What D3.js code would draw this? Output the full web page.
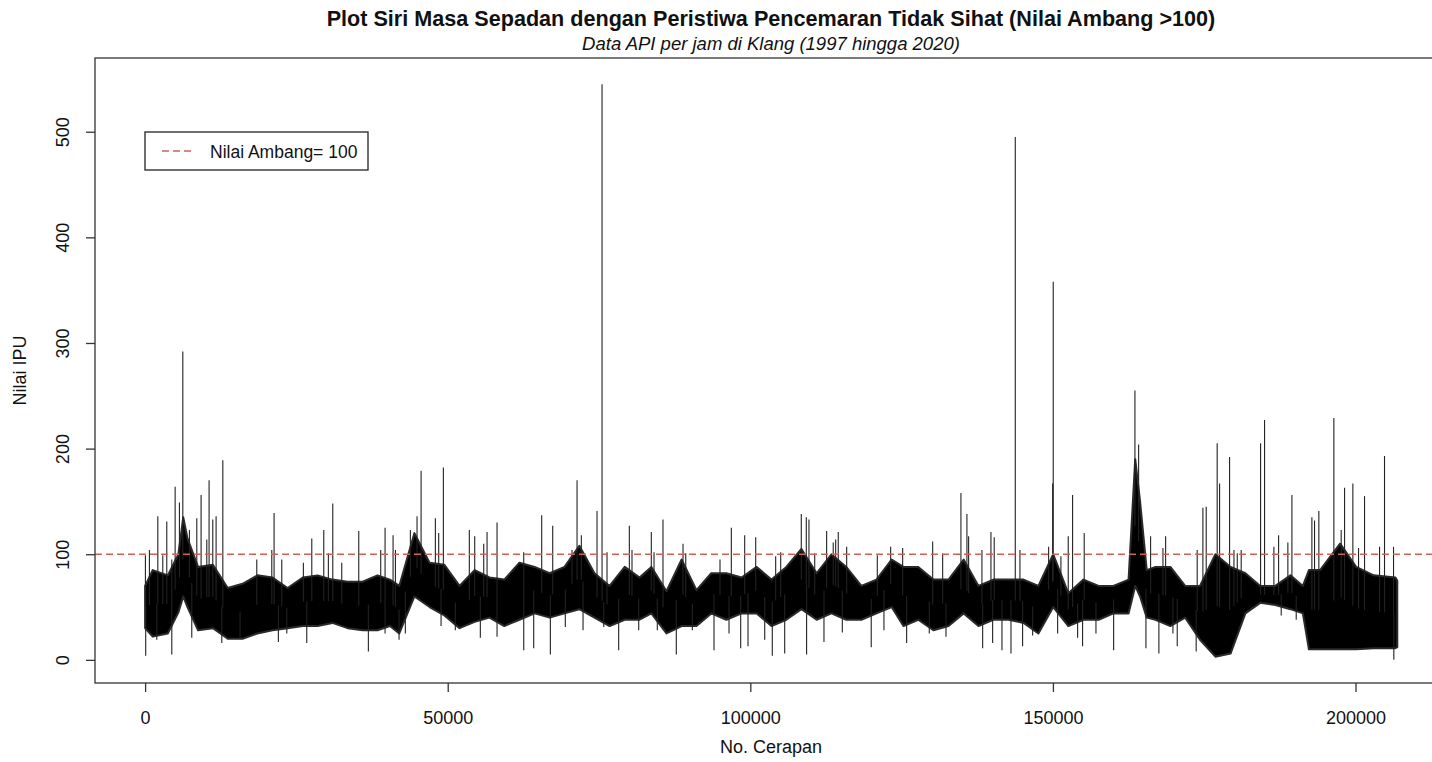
<!DOCTYPE html>
<html>
<head>
<meta charset="utf-8">
<script src="https://cdn.jsdelivr.net/npm/d3@7"></script>
<style>
  body { margin: 0; background: #fff; }
  svg text { font-family: "Liberation Sans", Arial, sans-serif; fill: #111; }
</style>
</head>
<body>
<svg id="chart" width="1432" height="762"></svg>
<script>
// Dense band of the hourly series, read per bin: observation no., low and high edge of the black mass
const binObs = [0, 1250, 3750, 5500, 6300, 7000, 8750, 11200, 13650, 16100, 18550, 21050, 23550, 26050,
  28500, 30950, 33450, 35950, 38400, 40450, 42000, 44500, 47000, 49450, 51950, 54450, 56900, 59350,
  61850, 64350, 66850, 69300, 71750, 74250, 76750, 79250, 81700, 83650, 86150, 88650, 91100, 93550,
  96050, 98550, 101050, 103500, 105950, 108450, 110950, 113400, 115850, 118350, 120850, 123350,
  125300, 127750, 130250, 132750, 135250, 137700, 140150, 142650, 145150, 147600, 150050, 152550,
  155050, 157550, 160000, 162500, 163600, 164400, 165500, 166950, 169400, 171850, 174300, 176850,
  179350, 181800, 184250, 186750, 189250, 191300, 192300, 194150, 197450, 200100, 203000, 206600, 206900];
const binLow = [30, 22, 25, 45, 60, 50, 28, 30, 20, 20, 25, 28, 30, 32,
  32, 35, 30, 28, 28, 32, 25, 60, 50, 42, 30, 36, 40, 32,
  38, 44, 40, 44, 48, 40, 32, 38, 38, 44, 25, 32, 32, 44,
  38, 44, 44, 32, 38, 48, 38, 44, 38, 38, 44, 50,
  32, 38, 28, 32, 44, 32, 38, 38, 35, 25, 50, 32,
  38, 38, 44, 44, 70, 60, 40, 38, 32, 40, 19, 3,
  6, 44, 54, 52, 48, 44, 10, 10, 10, 10, 11, 11, 12];
const binHigh = [70, 85, 80, 100, 135, 115, 88, 90, 68, 72, 80, 78, 68, 78,
  80, 76, 74, 74, 80, 76, 70, 120, 92, 90, 70, 85, 78, 76,
  92, 88, 82, 88, 108, 82, 70, 88, 78, 88, 65, 95, 66, 82,
  82, 78, 88, 76, 88, 105, 82, 100, 88, 70, 76, 95,
  88, 88, 76, 76, 95, 70, 76, 76, 76, 70, 100, 63,
  76, 70, 70, 76, 190, 150, 85, 88, 88, 70, 70, 100,
  88, 82, 70, 70, 80, 70, 85, 85, 110, 88, 80, 78, 75];

// Individual peaks above the band
const peakObs = [50, 710, 2100, 2920, 3580, 4410, 4960, 5670, 6230, 7320, 8540, 9250, 10190, 10570,
  11180, 11730, 12840, 18450, 20930, 21310, 22580, 26150, 27540, 29520, 30280, 31010, 32490, 35300,
  38930, 39650, 40970, 41360, 43830, 44930, 45600, 47960, 48510, 49280, 53570, 54460, 55950, 56500,
  58150, 62560, 65530, 67350, 70540, 71370, 72080, 74670, 75500, 76320, 80010, 80450, 83640, 84090,
  85570, 88880, 89330, 94990, 96860, 99070, 100890, 104190, 105020, 108420, 109250, 109690, 110640,
  112610, 113700, 114100, 114530, 115920, 120980, 123190, 125170, 130130, 131780, 134800, 135790,
  136070, 138270, 139760, 140300, 143780, 144550, 149290, 149950, 150050, 151320, 152530, 153250,
  155170, 163550, 164160, 166140, 168180, 168620, 173840, 174780, 175330, 177140, 177540, 179190,
  179910, 180460, 181110, 184310, 184970, 186510, 187290, 188820, 189490, 192790, 193230, 193940,
  196420, 197630, 198190, 199560, 200500, 201490, 203970, 204790, 206280];
const peakVal = [99, 104, 136, 99, 131, 95, 164, 149, 292, 123, 134, 156, 114, 170,
  133, 136, 189, 95, 104, 139, 95, 92, 115, 123, 101, 148, 92, 122,
  104, 125, 118, 104, 123, 136, 179, 134, 120, 182, 123, 117, 110, 121,
  130, 102, 137, 127, 104, 170, 118, 141, 545, 102, 127, 104, 121, 102,
  133, 110, 101, 95, 125, 118, 116, 98, 102, 138, 135, 133, 101,
  122, 111, 114, 121, 107, 99, 107, 106, 112, 101, 158, 138,
  117, 104, 121, 116, 495, 104, 107, 167, 358, 98, 117, 156,
  120, 255, 204, 117, 106, 117, 104, 144, 145, 205, 167, 192,
  104, 101, 104, 205, 227, 107, 118, 111, 156, 135, 132, 141,
  229, 123, 163, 167, 106, 155, 107, 193, 107];

// Individual dips below the band
const dipObs = [100, 1930, 4410, 7710, 12670, 15690, 22020, 23410, 26710, 36890, 39650, 41960, 43000,
  48900, 51260, 55390, 58150, 62560, 64210, 66960, 69430, 72360, 75780, 78250, 81560, 84630, 87770,
  90420, 94000, 96480, 98410, 99620, 102380, 103630, 105680, 109300, 112170, 115200, 119980, 122080,
  125830, 129570, 132330, 138390, 140040, 141580, 143070, 144990, 146650, 150780, 154080, 154900,
  157110, 160030, 165370, 167510, 169830, 170540, 173670, 187720, 190200, 206330];
const dipVal = [4, 19, 5, 21, 16, 21, 17, 25, 16, 8, 25, 19, 25,
  32, 28, 21, 22, 9, 11, 5, 31, 28, 31, 9, 28, 28, 5,
  28, 9, 25, 11, 13, 19, 4, 6, 5, 17, 26, 12, 28,
  16, 25, 22, 11, 16, 9, 6, 13, 23, 25, 21, 13,
  25, 9, 11, 6, 25, 13, 8, 42, 38, 0];

const threshold = 100;
const xTicks = [0, 50000, 100000, 150000, 200000];
const yTicks = [0, 100, 200, 300, 400, 500];

const svg = d3.select("#chart");
const plot = { left: 95, right: 1448, top: 58, bottom: 683 };

// R style: 4% padding around the data range
const x = d3.scaleLinear().domain([-8280, 215280]).range([plot.left, plot.right]);
const y = d3.scaleLinear().domain([-21.9, 569.8]).range([plot.bottom, plot.top]);

const band = binObs.map((o, i) => ({ obs: o, lo: binLow[i], hi: binHigh[i] }));
const mid = d3.scaleLinear().domain(binObs).range(band.map(d => (d.lo + d.hi) / 2)).clamp(true);

const g = svg.append("g");

// dense black mass
g.append("path")
  .datum(band)
  .attr("fill", "#000")
  .attr("stroke", "#2a2a2a")
  .attr("stroke-width", 2)
  .attr("stroke-linejoin", "round")
  .attr("d", d3.area().x(d => x(d.obs)).y0(d => y(d.lo)).y1(d => y(d.hi)));

// peaks and dips as thin vertical strokes
const strokes = peakObs.map((o, i) => ({ obs: o, v: peakVal[i] }))
  .concat(dipObs.map((o, i) => ({ obs: o, v: dipVal[i] })));
g.selectAll("line.spike")
  .data(strokes)
  .join("line")
  .attr("class", "spike")
  .attr("x1", d => x(d.obs)).attr("x2", d => x(d.obs))
  .attr("y1", d => y(mid(d.obs))).attr("y2", d => y(d.v))
  .attr("stroke", "#222")
  .attr("stroke-width", 1.1);

// threshold line
svg.append("line")
  .attr("x1", plot.left).attr("x2", plot.right)
  .attr("y1", y(threshold)).attr("y2", y(threshold))
  .attr("stroke", "#d0605a")
  .attr("stroke-width", 1.3)
  .attr("stroke-dasharray", "7,4");

// frame
svg.append("rect")
  .attr("x", plot.left).attr("y", plot.top)
  .attr("width", plot.right - plot.left).attr("height", plot.bottom - plot.top)
  .attr("fill", "none").attr("stroke", "#333").attr("stroke-width", 1.3);

// axes
const xAxis = svg.append("g")
  .attr("transform", `translate(0,${plot.bottom})`)
  .call(d3.axisBottom(x).tickValues(xTicks).tickSize(9).tickPadding(19).tickFormat(d3.format("d")));
xAxis.select(".domain").remove();
xAxis.selectAll("line").attr("stroke", "#333").attr("stroke-width", 1.3);
xAxis.selectAll("text").attr("font-size", 18).attr("font-family", "Liberation Sans, Arial, sans-serif").attr("fill", "#111");

const yAxis = svg.append("g")
  .attr("transform", `translate(${plot.left},0)`)
  .call(d3.axisLeft(y).tickValues(yTicks).tickSize(9).tickFormat(d3.format("d")));
yAxis.select(".domain").remove();
yAxis.selectAll("line").attr("stroke", "#333").attr("stroke-width", 1.3);
yAxis.selectAll("text")
  .attr("font-size", 18).attr("font-family", "Liberation Sans, Arial, sans-serif").attr("fill", "#111")
  .attr("text-anchor", "middle").attr("dy", null)
  .attr("x", null)
  .attr("transform", "translate(-26,0) rotate(-90)");

// titles
svg.append("text")
  .attr("x", 771).attr("y", 26)
  .attr("text-anchor", "middle")
  .attr("font-size", 21.6).attr("font-weight", "bold")
  .text("Plot Siri Masa Sepadan dengan Peristiwa Pencemaran Tidak Sihat (Nilai Ambang >100)");
svg.append("text")
  .attr("x", 771).attr("y", 50)
  .attr("text-anchor", "middle")
  .attr("font-size", 18.5).attr("font-style", "italic")
  .text("Data API per jam di Klang (1997 hingga 2020)");
svg.append("text")
  .attr("x", 771).attr("y", 753)
  .attr("text-anchor", "middle")
  .attr("font-size", 18)
  .text("No. Cerapan");
svg.append("text")
  .attr("transform", `translate(26,${(plot.top + plot.bottom) / 2}) rotate(-90)`)
  .attr("text-anchor", "middle")
  .attr("font-size", 18)
  .text("Nilai IPU");

// legend
const legend = svg.append("g");
legend.append("rect")
  .attr("x", 145).attr("y", 132).attr("width", 223).attr("height", 38)
  .attr("fill", "#fff").attr("stroke", "#222").attr("stroke-width", 1.3);
legend.append("line")
  .attr("x1", 162).attr("x2", 195).attr("y1", 151).attr("y2", 151)
  .attr("stroke", "#d0605a").attr("stroke-width", 1.3).attr("stroke-dasharray", "7,4");
legend.append("text")
  .attr("x", 210).attr("y", 157.5)
  .attr("font-size", 17.5)
  .text("Nilai Ambang= 100");
</script>
</body>
</html>
